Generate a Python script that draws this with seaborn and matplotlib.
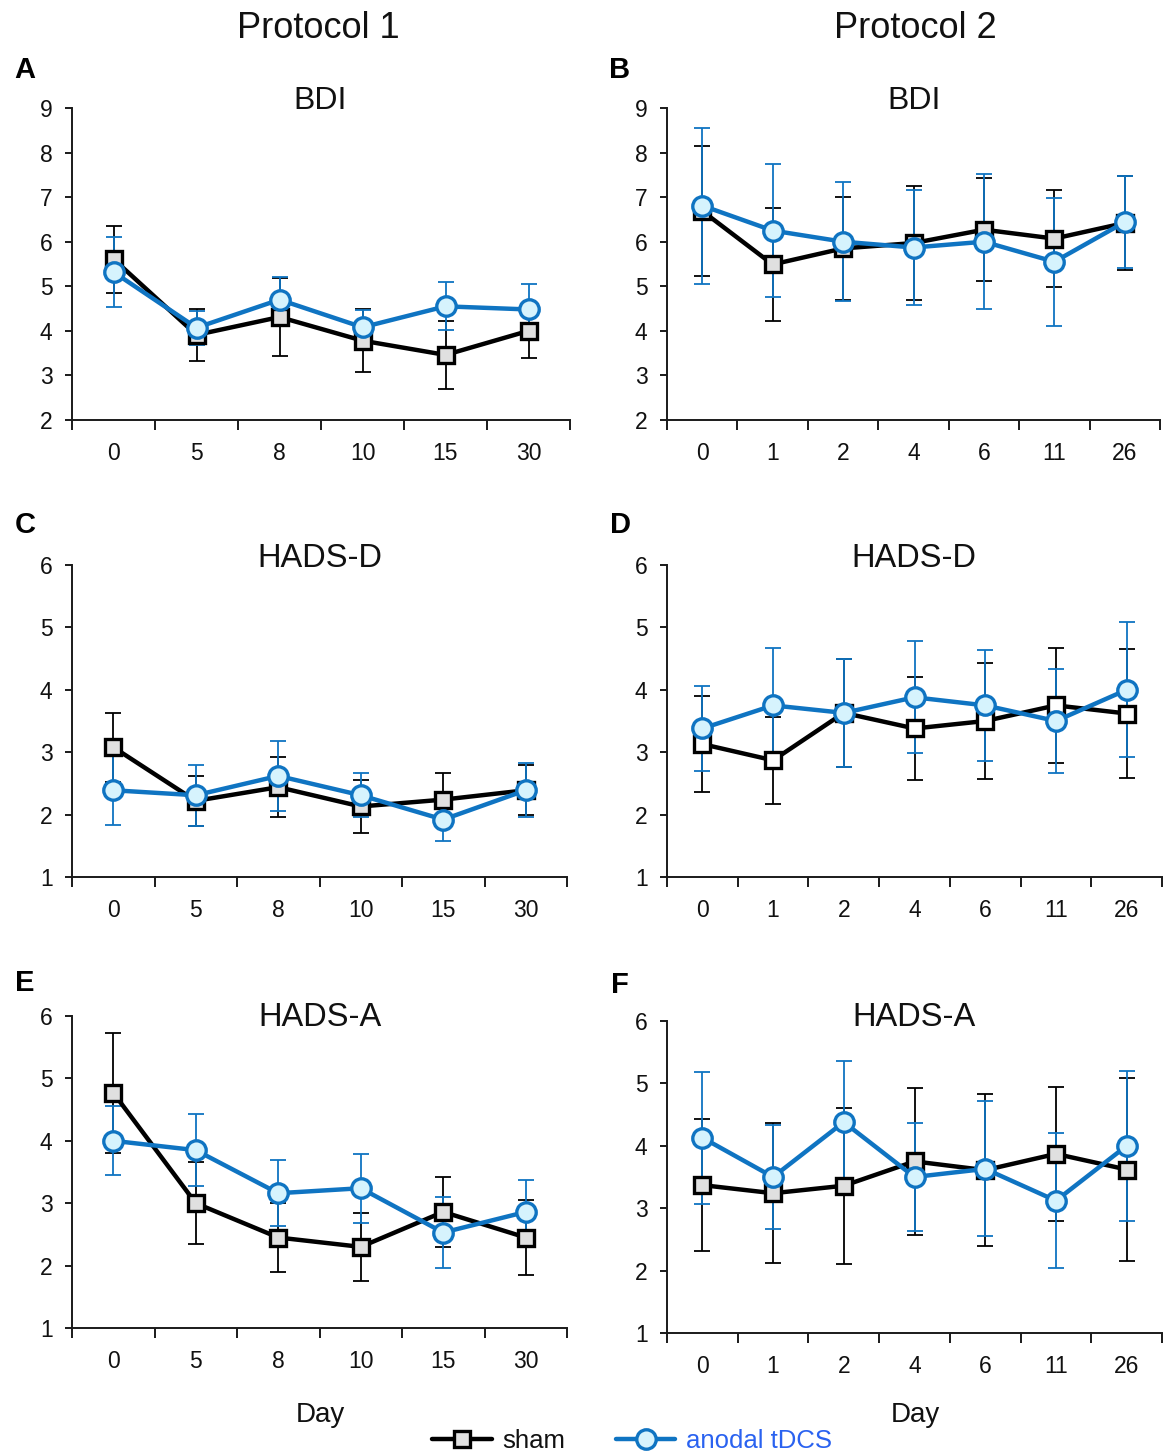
import numpy as np
import pandas as pd
import matplotlib
matplotlib.use("Agg")
import matplotlib.pyplot as plt
import seaborn as sns
from matplotlib import font_manager as fm
from matplotlib.lines import Line2D
from matplotlib.ticker import FixedLocator, FixedFormatter, NullFormatter

# ---------------- data ----------------
days_p1 = ["0", "5", "8", "10", "15", "30"]
days_p2 = ["0", "1", "2", "4", "6", "11", "26"]

bdi1_sham = [5.61, 3.91, 4.31, 3.78, 3.46, 4.00]
bdi1_sham_err = [0.75, 0.59, 0.87, 0.71, 0.77, 0.60]
bdi1_tdcs = [5.32, 4.07, 4.70, 4.08, 4.55, 4.48]
bdi1_tdcs_err = [0.78, 0.38, 0.50, 0.39, 0.54, 0.57]

bdi2_sham = [6.69, 5.49, 5.85, 5.97, 6.27, 6.07, 6.42]
bdi2_sham_err = [1.45, 1.27, 1.15, 1.28, 1.15, 1.08, 1.05]
bdi2_tdcs = [6.81, 6.25, 6.00, 5.87, 6.00, 5.55, 6.44]
bdi2_tdcs_err = [1.75, 1.50, 1.34, 1.28, 1.52, 1.44, 1.04]

hadsd1_sham = [3.08, 2.22, 2.44, 2.13, 2.24, 2.39]
hadsd1_sham_err = [0.55, 0.40, 0.48, 0.42, 0.42, 0.40]
hadsd1_tdcs = [2.39, 2.31, 2.62, 2.31, 1.92, 2.39]
hadsd1_tdcs_err = [0.55, 0.49, 0.56, 0.35, 0.35, 0.43]

hadsd2_sham = [3.13, 2.87, 3.63, 3.38, 3.50, 3.75, 3.62]
hadsd2_sham_err = [0.77, 0.70, 0.87, 0.82, 0.93, 0.92, 1.03]
hadsd2_tdcs = [3.38, 3.75, 3.63, 3.88, 3.75, 3.50, 4.00]
hadsd2_tdcs_err = [0.68, 0.92, 0.87, 0.90, 0.89, 0.83, 1.08]

hadsa1_sham = [4.77, 3.00, 2.45, 2.30, 2.86, 2.45]
hadsa1_sham_err = [0.96, 0.66, 0.55, 0.54, 0.56, 0.60]
hadsa1_tdcs = [4.00, 3.85, 3.16, 3.24, 2.53, 2.86]
hadsa1_tdcs_err = [0.55, 0.58, 0.53, 0.55, 0.57, 0.51]

hadsa2_sham = [3.37, 3.24, 3.36, 3.75, 3.61, 3.87, 3.62]
hadsa2_sham_err = [1.06, 1.12, 1.25, 1.18, 1.22, 1.08, 1.46]
hadsa2_tdcs = [4.13, 3.50, 4.38, 3.50, 3.63, 3.12, 4.00]
hadsa2_tdcs_err = [1.06, 0.84, 0.98, 0.87, 1.08, 1.08, 1.20]

# ---------------- style ----------------
sns.set_theme(style="white")
names = {f.name for f in fm.fontManager.ttflist}
NARROW = "Liberation Sans Narrow" if "Liberation Sans Narrow" in names else "Liberation Sans"
plt.rcParams["font.family"] = ["Liberation Sans", "DejaVu Sans"]

BLUE = "#0f74c2"
LIGHT = "#d6f3fd"
GREY = "#e0e0e0"
AXC = "#1a1a1a"

W, H = 1164, 1454
fig = plt.figure(figsize=(W / 100, H / 100), dpi=100)


def add_axes(left, right, top, bottom):
    return fig.add_axes([left / W, 1 - bottom / H, (right - left) / W, (bottom - top) / H])


def panel(ax, days, sham, sham_err, tdcs, tdcs_err, ylo, yhi, sham_face):
    n = len(days)
    df = pd.DataFrame({"pos": np.arange(n), "sham": sham, "tdcs": tdcs})
    ax.errorbar(df["pos"], df["sham"], yerr=sham_err, fmt="none", ecolor="black",
                elinewidth=1.3, capsize=6, capthick=1.3, zorder=2)
    ax.errorbar(df["pos"], df["tdcs"], yerr=tdcs_err, fmt="none", ecolor=BLUE,
                elinewidth=1.3, capsize=6, capthick=1.3, zorder=3)
    sns.lineplot(data=df, x="pos", y="sham", ax=ax, color="black", lw=3.2,
                 marker="s", markersize=11, markerfacecolor=sham_face,
                 markeredgecolor="black", markeredgewidth=2.4, zorder=4)
    sns.lineplot(data=df, x="pos", y="tdcs", ax=ax, color=BLUE, lw=3.2,
                 marker="o", markersize=14, markerfacecolor=LIGHT,
                 markeredgecolor=BLUE, markeredgewidth=2.4, zorder=5)
    ax.set_xlim(-0.5, n - 0.5)
    ax.set_ylim(ylo, yhi)
    ax.set_xlabel("")
    ax.set_ylabel("")
    ax.xaxis.set_major_locator(FixedLocator(np.arange(n + 1) - 0.5))
    ax.xaxis.set_major_formatter(NullFormatter())
    ax.xaxis.set_minor_locator(FixedLocator(np.arange(n)))
    ax.xaxis.set_minor_formatter(FixedFormatter(days))
    ax.tick_params(axis="x", which="major", direction="out", length=7, width=1.4,
                   color=AXC, bottom=True)
    ax.tick_params(axis="x", which="minor", length=0, pad=16, labelsize=16.5,
                   bottom=True, labelcolor="#111111")
    ax.set_yticks(np.arange(ylo, yhi + 1))
    ax.tick_params(axis="y", which="major", direction="out", length=5, width=1.4,
                   color=AXC, left=True, pad=9, labelsize=16.5, labelcolor="#111111")
    for lab in ax.get_xticklabels(minor=True) + ax.get_yticklabels():
        lab.set_fontfamily([NARROW, "DejaVu Sans"])
    for s in ["top", "right"]:
        ax.spines[s].set_visible(False)
    for s in ["left", "bottom"]:
        ax.spines[s].set_color(AXC)
        ax.spines[s].set_linewidth(1.4)
    ax.grid(False)


axA = add_axes(72, 570, 108, 420)
axB = add_axes(667, 1160, 108, 420)
axC = add_axes(72, 567, 565, 877)
axD = add_axes(667, 1162, 565, 877)
axE = add_axes(72, 567, 1016, 1328)
axF = add_axes(667, 1162, 1021, 1333)

panel(axA, days_p1, bdi1_sham, bdi1_sham_err, bdi1_tdcs, bdi1_tdcs_err, 2, 9, GREY)
panel(axB, days_p2, bdi2_sham, bdi2_sham_err, bdi2_tdcs, bdi2_tdcs_err, 2, 9, GREY)
panel(axC, days_p1, hadsd1_sham, hadsd1_sham_err, hadsd1_tdcs, hadsd1_tdcs_err, 1, 6, GREY)
panel(axD, days_p2, hadsd2_sham, hadsd2_sham_err, hadsd2_tdcs, hadsd2_tdcs_err, 1, 6, "white")
panel(axE, days_p1, hadsa1_sham, hadsa1_sham_err, hadsa1_tdcs, hadsa1_tdcs_err, 1, 6, GREY)
panel(axF, days_p2, hadsa2_sham, hadsa2_sham_err, hadsa2_tdcs, hadsa2_tdcs_err, 1, 6, GREY)


def ftext(x, y, s, **kw):
    fig.text(x / W, 1 - y / H, s, ha="center", va="center", **kw)


NF = [NARROW, "DejaVu Sans"]
# column headings
ftext(318, 28, "Protocol 1", fontsize=26, color="#111111")
ftext(915, 28, "Protocol 2", fontsize=26, color="#111111")
# panel titles
ftext(320, 101, "BDI", fontsize=23, family=NF, color="#111111")
ftext(914, 101, "BDI", fontsize=23, family=NF, color="#111111")
ftext(320, 558, "HADS-D", fontsize=23.5, family=NF, color="#111111")
ftext(914, 558, "HADS-D", fontsize=23.5, family=NF, color="#111111")
ftext(320, 1017, "HADS-A", fontsize=23.5, family=NF, color="#111111")
ftext(914, 1017, "HADS-A", fontsize=23.5, family=NF, color="#111111")
# panel letters
for lx, ly, letter in [(25, 70, "A"), (620, 70, "B"), (25, 525, "C"),
                       (620, 525, "D"), (25, 983, "E"), (620, 985, "F")]:
    ftext(lx, ly, letter, fontsize=21, fontweight="bold", color="black")
# x-axis labels
ftext(320, 1415, "Day", fontsize=20, color="#111111")
ftext(915, 1415, "Day", fontsize=20, color="#111111")

# legend
h_sham = Line2D([], [], color="black", lw=3.2, marker="s", markersize=11,
                markerfacecolor=GREY, markeredgecolor="black", markeredgewidth=2.4)
h_tdcs = Line2D([], [], color=BLUE, lw=3.2, marker="o", markersize=14,
                markerfacecolor=LIGHT, markeredgecolor=BLUE, markeredgewidth=2.4)
leg = fig.legend(handles=[h_sham, h_tdcs], labels=["sham", "anodal tDCS"],
                 loc="center", bbox_to_anchor=(632 / W, 1 - 1441 / H), ncol=2,
                 frameon=False, handlelength=2.3, handletextpad=0.4,
                 columnspacing=2.0, prop={"family": NF, "size": 18.5})
leg.get_texts()[0].set_color("#111111")
leg.get_texts()[1].set_color("#2a62f0")

fig.savefig("out.png", dpi=100)
